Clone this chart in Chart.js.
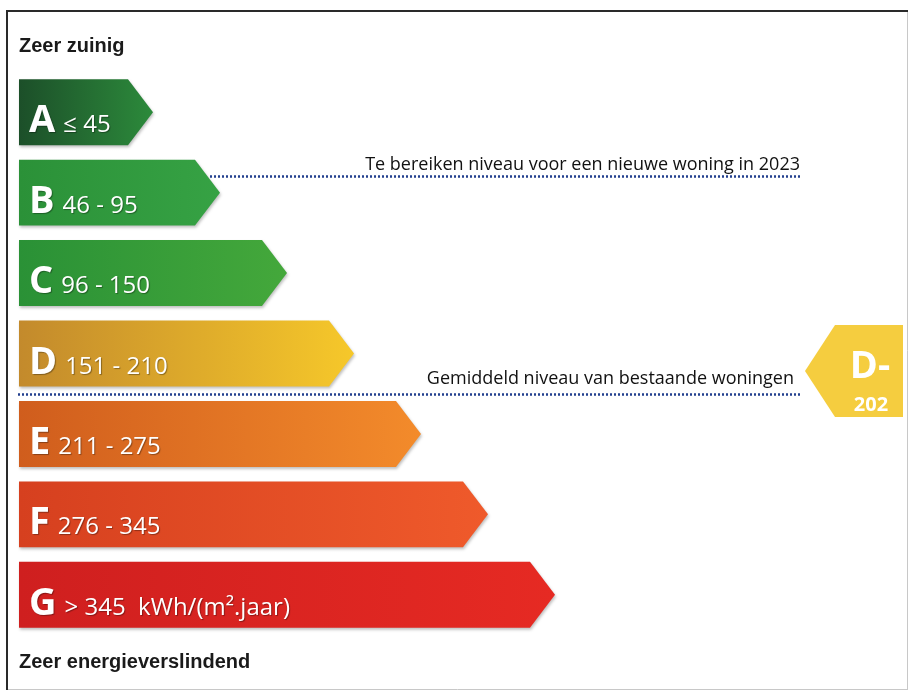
<!DOCTYPE html>
<html>
<head>
<meta charset="utf-8">
<script src="https://cdn.jsdelivr.net/npm/chart.js@4.4.1/dist/chart.umd.min.js"></script>
<style>
    html, body { margin: 0; padding: 0; background: #fff; }
    #wrap { width: 909px; height: 692px; }
</style>
</head>
<body>
<div id="wrap"><canvas id="labelChart" width="909" height="692"></canvas></div>
<script>
// energy classes
const classes = ["A", "B", "C", "D", "E", "F", "G"];
const ranges = ["\u2264 45", "46 - 95", "96 - 150", "151 - 210", "211 - 275", "276 - 345", "> 345  kWh/(m\u00b2.jaar)"];
// arrow lengths (one step per class)
const barLengths = [2, 3, 4, 5, 6, 7, 8];
const colorsDark = ["#1c4f29", "#2b9138", "#2a9136", "#c38a2c", "#d05d1d", "#d6401f", "#cf1f1f"];
const colorsLight = ["#2c8a3b", "#36a244", "#44a83b", "#f6c82a", "#f38b2b", "#ef5a2b", "#e62a23"];

const targetText = "Te bereiken niveau voor een nieuwe woning in 2023";
const averageText = "Gemiddeld niveau van bestaande woningen";
const scoreLabel = "D-";
const scoreValue = "202";

const TIP = 25;

const energyPlugin = {
    id: "energyLabel",
    beforeDraw(chart) {
        const ctx = chart.ctx;
        ctx.save();
        ctx.fillStyle = "#fff";
        ctx.fillRect(0, 0, chart.width, chart.height);
        // frame
        ctx.strokeStyle = "#c8c8c8";
        ctx.lineWidth = 1;
        ctx.beginPath();
        ctx.moveTo(907.5, 11); ctx.lineTo(907.5, 690);
        ctx.moveTo(7, 689.5); ctx.lineTo(908, 689.5);
        ctx.stroke();
        ctx.strokeStyle = "#2a2a2a";
        ctx.lineWidth = 2;
        ctx.beginPath();
        ctx.moveTo(7, 690); ctx.lineTo(7, 11); ctx.lineTo(908, 11);
        ctx.stroke();

        ctx.fillStyle = "#1a1a1a";
        ctx.font = "bold 20px 'Liberation Sans', Arial, sans-serif";
        ctx.textBaseline = "alphabetic";
        ctx.fillText("Zeer zuinig", 19, 52);
        ctx.fillText("Zeer energieverslindend", 19, 668);
        ctx.restore();
    },
    afterDatasetsDraw(chart) {
        const ctx = chart.ctx;
        const meta = chart.getDatasetMeta(0);
        const yScale = chart.scales.y;
        ctx.save();
        meta.data.forEach((el, i) => {
            const top = el.y - el.height / 2;
            const bot = el.y + el.height / 2;
            const left = el.base;
            const right = el.x;
            const g = ctx.createLinearGradient(left, 0, right, 0);
            g.addColorStop(0, colorsDark[i]);
            g.addColorStop(1, colorsLight[i]);
            ctx.shadowColor = "rgba(0,0,0,0.25)";
            ctx.shadowBlur = 3;
            ctx.shadowOffsetX = 1;
            ctx.shadowOffsetY = 2;
            ctx.fillStyle = g;
            ctx.beginPath();
            ctx.moveTo(left, top);
            ctx.lineTo(right - TIP, top);
            ctx.lineTo(right, el.y);
            ctx.lineTo(right - TIP, bot);
            ctx.lineTo(left, bot);
            ctx.closePath();
            ctx.fill();

            ctx.shadowColor = "rgba(0,0,0,0.35)";
            ctx.shadowBlur = 1;
            ctx.shadowOffsetX = 1;
            ctx.shadowOffsetY = 1;
            ctx.fillStyle = "#fff";
            ctx.font = "bold 38px 'Open Sans', sans-serif";
            const base = el.y + 20;
            ctx.fillText(classes[i], left + 10, base);
            const w = ctx.measureText(classes[i]).width;
            ctx.font = "24px 'Open Sans', sans-serif";
            ctx.fillText(ranges[i], left + 18 + w, base);
        });
        ctx.shadowColor = "transparent";

        // reference lines
        const bEl = meta.data[1];
        const lineEnd = 802;
        ctx.lineWidth = 2.5;
        ctx.setLineDash([2, 2]);
        ctx.strokeStyle = "#23408f";
        ctx.beginPath();
        const yB = Math.round(yScale.getPixelForValue(1) - 17) + 0.5;
        ctx.moveTo(bEl.x - 10, yB);
        ctx.lineTo(lineEnd, yB);
        const yD = Math.round((yScale.getPixelForValue(3) + yScale.getPixelForValue(4)) / 2) + 0.5;
        ctx.moveTo(18, yD);
        ctx.lineTo(lineEnd, yD);
        ctx.stroke();
        ctx.setLineDash([]);

        ctx.fillStyle = "#111";
        ctx.font = "18px 'Open Sans', sans-serif";
        ctx.textAlign = "right";
        ctx.fillText(targetText, 800, yB - 7);
        ctx.fillText(averageText, 794, yD - 11);

        // score badge
        const bx = 805, br = 903, by = 325, bb = 417;
        const cy = (by + bb) / 2;
        ctx.fillStyle = "#f5cd3f";
        ctx.beginPath();
        ctx.moveTo(bx, cy);
        ctx.lineTo(bx + 30, by);
        ctx.lineTo(br, by);
        ctx.lineTo(br, bb);
        ctx.lineTo(bx + 30, bb);
        ctx.closePath();
        ctx.fill();
        ctx.fillStyle = "#fff";
        ctx.textAlign = "center";
        ctx.font = "bold 38px 'Open Sans', sans-serif";
        ctx.fillText(scoreLabel, 870, 378);
        ctx.font = "bold 20px 'Open Sans', sans-serif";
        ctx.fillText(scoreValue, 871, 411);
        ctx.restore();
    }
};

new Chart(document.getElementById("labelChart"), {
    type: "bar",
    data: {
        labels: classes,
        datasets: [{
            data: barLengths,
            backgroundColor: "rgba(0,0,0,0)",
            borderWidth: 0,
            barPercentage: 0.82,
            categoryPercentage: 1,
        }],
    },
    options: {
        indexAxis: "y",
        responsive: false,
        animation: false,
        events: [],
        layout: {
            padding: { left: 19, top: 72, right: 19, bottom: 57 },
        },
        plugins: {
            legend: { display: false },
            tooltip: { enabled: false },
        },
        scales: {
            x: { display: false, min: 0, max: 13 },
            y: { display: false },
        },
    },
    plugins: [energyPlugin],
});
</script>
</body>
</html>
